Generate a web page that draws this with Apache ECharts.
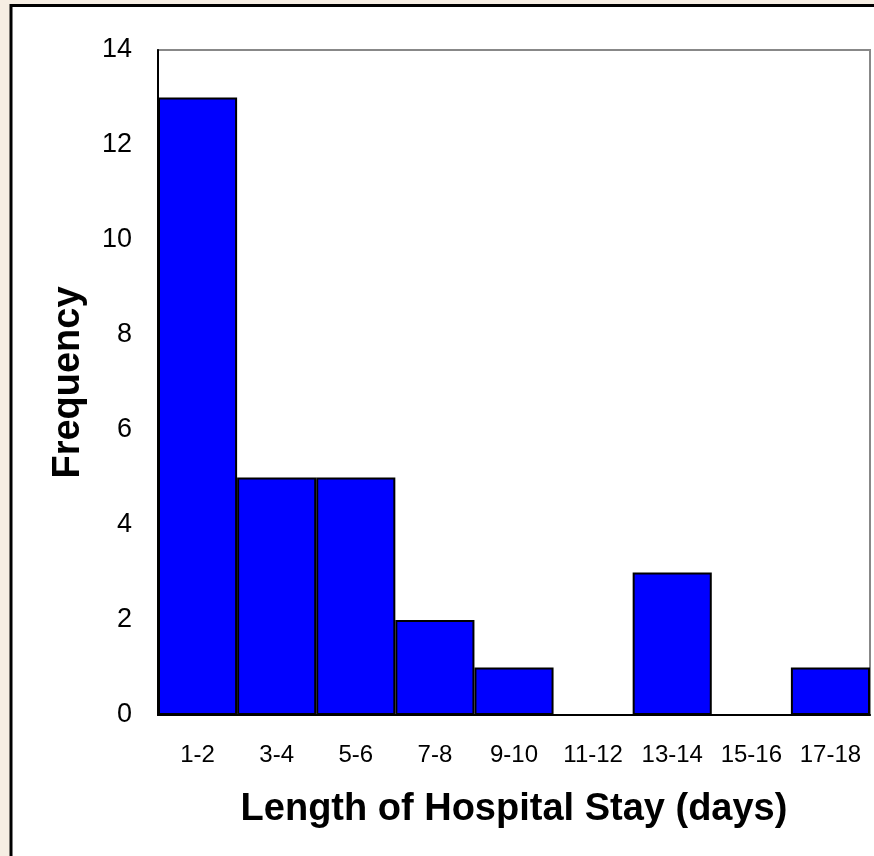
<!DOCTYPE html>
<html>
<head>
<meta charset="utf-8">
<script src="https://cdn.jsdelivr.net/npm/echarts@6/dist/echarts.min.js"></script>
<style>
  html, body { margin: 0; padding: 0; background: #F6EEE3; }
  #chart { width: 874px; height: 856px; }
</style>
</head>
<body>
<div id="chart"></div>
<script>
// Length-of-stay classes (days) and how many patients fell in each
const stayClasses = ['1-2', '3-4', '5-6', '7-8', '9-10', '11-12', '13-14', '15-16', '17-18'];
const frequencies = [13, 5, 5, 2, 1, 0, 3, 0, 1];
const freqTicks = { min: 0, max: 14, step: 2 };

const chart = echarts.init(document.getElementById('chart'), null, { renderer: 'canvas' });

chart.setOption({
  backgroundColor: '#F6EEE3',
  animation: false,
  textStyle: { fontFamily: 'Liberation Sans, Arial, sans-serif' },
  graphic: [{
    type: 'rect',
    z: -10,
    silent: true,
    shape: { x: 11, y: 5.5, width: 1000, height: 1000 },
    style: { fill: '#ffffff', stroke: '#000000', lineWidth: 3 }
  }],
  grid: {
    left: 158, top: 50, right: 4, bottom: 141,
    show: true,
    backgroundColor: '#ffffff',
    borderColor: '#888888',
    borderWidth: 2
  },
  xAxis: {
    type: 'category',
    data: stayClasses,
    name: 'Length of Hospital Stay (days)',
    nameLocation: 'middle',
    nameGap: 76,
    nameTextStyle: { fontSize: 38, fontWeight: 'bold', color: '#000' },
    axisLine: { lineStyle: { color: '#000', width: 2 } },
    axisTick: { show: false },
    axisLabel: { color: '#000', fontSize: 24, margin: 28, interval: 0 },
    splitLine: { show: false }
  },
  yAxis: {
    type: 'value',
    min: freqTicks.min,
    max: freqTicks.max,
    interval: freqTicks.step,
    name: 'Frequency',
    nameLocation: 'middle',
    nameGap: 70,
    nameTextStyle: { fontSize: 38, fontWeight: 'bold', color: '#000' },
    axisLine: { show: true, lineStyle: { color: '#000', width: 2 } },
    axisTick: { show: false },
    axisLabel: { color: '#000', fontSize: 27, margin: 26, padding: [8, 0, 0, 0] },
    splitLine: { show: false }
  },
  series: [{
    type: 'bar',
    data: frequencies,
    barCategoryGap: 0,
    itemStyle: { color: '#0000FF', borderColor: '#000000', borderWidth: 2 }
  }]
});
</script>
</body>
</html>
